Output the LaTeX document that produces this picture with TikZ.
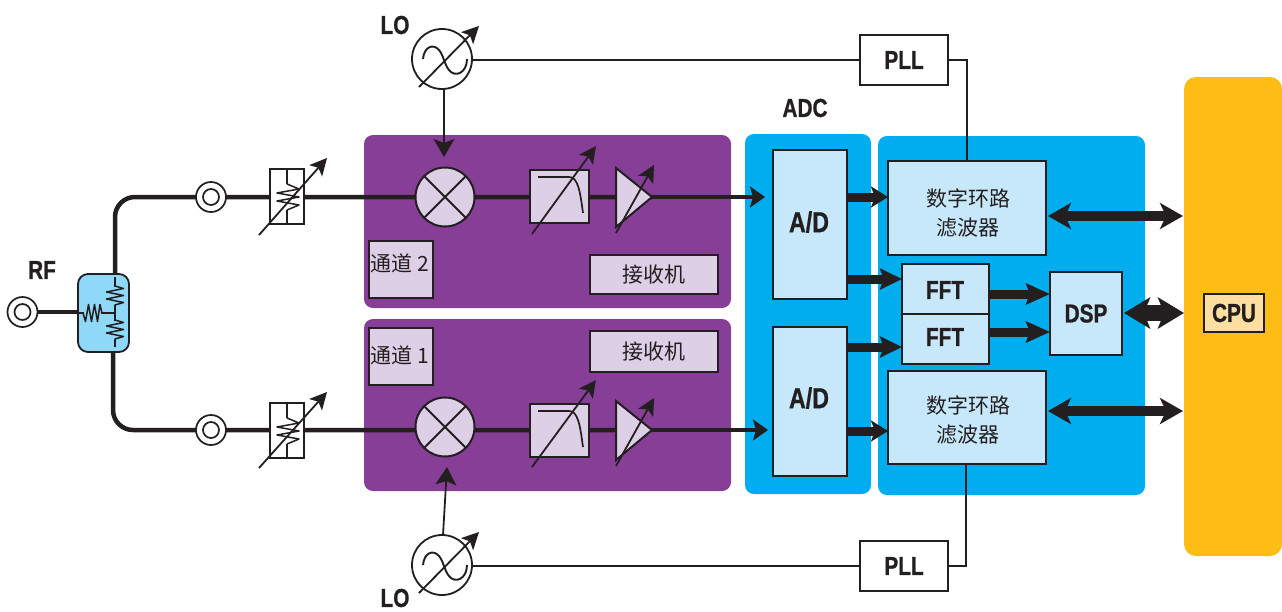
\documentclass[tikz,border=0pt]{standalone}
\usepackage{fontspec}
\setmainfont{Liberation Sans}
\newfontfamily\lab[FakeStretch=0.8,FakeBold=0.8]{Liberation Sans Bold}
\newfontfamily\cjk{Noto Sans CJK SC}
\usetikzlibrary{arrows.meta,calc}
\definecolor{ink}{HTML}{231F20}
\definecolor{purp}{HTML}{873E96}
\definecolor{lilac}{HTML}{DDCFE6}
\definecolor{cyanp}{HTML}{00ADEF}
\definecolor{paleb}{HTML}{C7E8FA}
\definecolor{skyb}{HTML}{8FD8F8}
\definecolor{amber}{HTML}{FDBD14}
\definecolor{cream}{HTML}{FEDFA0}
\tikzset{
  x=1pt,y=-1pt,
  panel/.style={rounded corners=9pt},
  boxp/.style={draw=ink,line width=2pt,inner sep=0pt,outer sep=0pt,text=ink,align=center},
  lil/.style={boxp,fill=lilac,font=\fontsize{21}{28}\selectfont\cjk},
  blu/.style={boxp,fill=paleb},
  bl/.style={boxp,fill=paleb,font=\fontsize{26}{28}\selectfont\lab},
  whitebox/.style={boxp,fill=white,font=\fontsize{26}{28}\selectfont\lab},
  lbl/.style={text=ink,inner sep=0pt,font=\fontsize{26}{28}\selectfont\lab},
  cjkt/.style={text=ink,inner sep=0pt,align=center,font=\fontsize{21}{29}\selectfont\cjk},
  ringo/.style={circle,draw=ink,line width=1.7pt,fill=white,minimum size=30pt,inner sep=0pt,outer sep=0pt},
  ringi/.style={circle,draw=ink,line width=1.7pt,minimum size=16pt,inner sep=0pt},
  mixer/.style={circle,draw=ink,line width=2pt,fill=lilac,minimum size=59pt,inner sep=0pt,outer sep=0pt},
  osc/.style={circle,draw=ink,line width=1.8pt,fill=white,minimum size=60pt,inner sep=0pt,outer sep=0pt},
  sig/.style={draw=ink,line width=4.5pt},
  thin line/.style={draw=ink,line width=1.7pt},
  vararrow/.style={draw=ink,line width=1.8pt,-{Stealth[length=17pt,width=17pt,inset=4pt]}},
  bigarrow/.style={draw=ink,line width=9pt,-{Stealth[length=#1,width=21pt,inset=4pt]}},
  bidir/.style={draw=ink,line width=9.5pt,{Stealth[length=23pt,width=26pt,inset=6pt]}-{Stealth[length=23pt,width=26pt,inset=6pt]}},
  bidirb/.style={draw=ink,line width=16pt,{Stealth[length=26pt,width=31pt,inset=6pt]}-{Stealth[length=26pt,width=31pt,inset=6pt]}},
  inarrow/.style={draw=ink,line width=4.5pt,-{Stealth[length=15pt,width=21pt,inset=3pt]}},
  loarrow/.style={draw=ink,line width=1.8pt,-{Stealth[length=18pt,width=21pt,inset=4pt]}},
  zig/.style={draw=ink,line width=1.5pt,line join=round},
}
\newcommand{\zigv}[3]{% centre x, centre y, half-amplitude
  \draw[zig] (#1,#2-13) -- (#1,#2-10) -- (#1+#3,#2-7.5) -- (#1-#3,#2-4) -- (#1+#3,#2-0.5) -- (#1-#3,#2+3) -- (#1+#3,#2+6.5) -- (#1,#2+9) -- (#1,#2+13);}
\newcommand{\zigh}[3]{%
  \draw[zig] (#1-11,#2) -- (#1-9,#2) -- (#1-6.5,#2+#3) -- (#1-3.5,#2-#3) -- (#1-0.5,#2+#3) -- (#1+2.5,#2-#3) -- (#1+5.5,#2+#3) -- (#1+8,#2-#3) -- (#1+10,#2) -- (#1+13,#2);}
\begin{document}
\begin{tikzpicture}
\useasboundingbox (0,0) rectangle (1282,611);
% panels
\fill[purp,panel] (364,135) rectangle (731,308);
\fill[purp,panel] (364,319) rectangle (731,491);
\fill[cyanp,panel] (745,134) rectangle (871,494);
\fill[cyanp,panel] (878,136) rectangle (1145,495);
\fill[amber,rounded corners=12pt] (1184,77) rectangle (1282,556);
% anchors
\coordinate (spU) at (115,276);
\coordinate (spD) at (113,350);
\coordinate (t1) at (765,197);
\coordinate (t2) at (768,430);
\path
  (22.5,312) coordinate (c0)
  (211,197) coordinate (c1)
  (211,430) coordinate (c2)
  (287,197) coordinate (a1)
  (287,430) coordinate (a2)
  (445,197) coordinate (m1)
  (445,427) coordinate (m2)
  (559,197) coordinate (f1)
  (559,430) coordinate (f2)
  (652,197) coordinate (amp1)
  (652,430) coordinate (amp2)
  (442,59) coordinate (o1)
  (442,565) coordinate (o2)
  (78,312) coordinate (spL);
% signal lines
\draw[sig] (c0) -- (spL);
\draw[sig,rounded corners=20pt] (spU) |- (c1) -- (a1) -- (m1) -- (f1) -- (amp1);
\draw[sig,rounded corners=20pt] (spD) |- (c2) -- (a2) -- (f2) -- (amp2);
\draw[inarrow] (amp1) -- (t1);
\draw[inarrow] (amp2) -- (t2);
% RF connectors
\node[ringo] (c0n) at (c0) {}; \node[ringi] (c0i) at (c0) {};
\node[ringo] (c1n) at (c1) {}; \node[ringi] (c1i) at (c1) {};
\node[ringo] (c2n) at (c2) {}; \node[ringi] (c2i) at (c2) {};
% splitter
\draw[draw=ink,line width=1.8pt,fill=skyb,rounded corners=10pt] (78,274) rectangle (129,352);
\draw[zig] (78,313) -- (115,313);
\fill[skyb] (84,305) rectangle (101,321);
\zigh{92}{313}{8.5}
\draw[zig] (115,277) -- (115,347);
\fill[skyb] (106,287) rectangle (124,305);
\fill[skyb] (106,321) rectangle (124,339);
\zigv{115}{296}{8.5}
\zigv{115}{330}{8.5}
% attenuators
\foreach \n/\cy in {a1/196,a2/430}{
  \node[boxp,fill=white,minimum width=34pt,minimum height=55pt] (\n n) at (287,\cy) {};
  \draw[zig] (287,\cy-27) -- (287,\cy-12);
  \draw[zig] (287,\cy+14) -- (287,\cy+27);
  \draw[zig] (287,\cy-12) -- (299,\cy-7) -- (277,\cy-3) -- (299,\cy+1) -- (277,\cy+5) -- (299,\cy+9) -- (287,\cy+14);
}
\coordinate (av1s) at (259,235); \coordinate (av1e) at (327,158);
\coordinate (av2s) at (259,468); \coordinate (av2e) at (327,392);
\draw[vararrow] (av1s) -- (av1e);
\draw[vararrow] (av2s) -- (av2e);
% mixers
\node[mixer] (m1n) at (m1) {};
\draw[ink,line width=1.8pt] (m1n.45) -- (m1n.225) (m1n.135) -- (m1n.315);
\node[mixer] (m2n) at (m2) {};
\draw[ink,line width=1.8pt] (m2n.45) -- (m2n.225) (m2n.135) -- (m2n.315);
% filters
\foreach \n/\cy in {f1/196,f2/430}{
  \node[boxp,fill=lilac,minimum width=59pt,minimum height=53pt] (\n n) at (559.5,\cy) {};
  \draw[ink,line width=1.7pt] (538,\cy-19) -- (569,\cy-19) .. controls (578,\cy-19) and (580,\cy-5) .. (583,\cy+17);
}
\coordinate (fv1s) at (532,234); \coordinate (fv1e) at (596,146);
\coordinate (fv2s) at (532,467); \coordinate (fv2e) at (596,380);
\draw[vararrow] (fv1s) -- (fv1e);
\draw[vararrow] (fv2s) -- (fv2e);
% amplifiers
\draw[ink,line width=2pt,fill=lilac,line join=miter] (616,168) -- (amp1) -- (616,227) -- cycle;
\draw[ink,line width=2pt,fill=lilac,line join=miter] (616,401) -- (amp2) -- (616,460) -- cycle;
\coordinate (pv1s) at (616,233); \coordinate (pv1e) at (654,165);
\coordinate (pv2s) at (616,466); \coordinate (pv2e) at (654,398);
\draw[vararrow] (pv1s) -- (pv1e);
\draw[vararrow] (pv2s) -- (pv2e);
% channel / receiver labels
\node[lil,minimum width=64pt,minimum height=57pt,anchor=north west] (ch2) at (369,241) {};
\node[cjkt] (ch2t) at (400,263) {通道 2};
\node[lil,minimum width=64pt,minimum height=57pt,anchor=north west] (ch1) at (369,328) {};
\node[cjkt] (ch1t) at (400,355) {通道 1};
\node[lil,minimum width=128pt,minimum height=39pt] (rx2) at (654,274.5) {接收机};
\node[lil,minimum width=128pt,minimum height=41pt] (rx1) at (654,351.5) {接收机};
% digital blocks
\node[bl,minimum width=74pt,minimum height=149pt,anchor=north west] (ad1) at (773,150) {};
\node[lbl,font=\fontsize{29}{30}\selectfont\lab] (ad1t) at (809,222) {A/D};
\node[bl,minimum width=74pt,minimum height=149pt,anchor=north west] (ad2) at (773,327) {};
\node[lbl,font=\fontsize{29}{30}\selectfont\lab] (ad2t) at (809,398) {A/D};
\node[blu,minimum width=158pt,minimum height=94pt] (d1) at (967,208) {};
\node[cjkt] (d1t) at (968,213) {数字环路\\滤波器};
\node[blu,minimum width=158pt,minimum height=93pt] (d2) at (967,417.5) {};
\node[cjkt] (d2t) at (968,420) {数字环路\\滤波器};
\node[bl,minimum width=87pt,minimum height=50pt,anchor=north west] (fft1) at (902,264) {};
\node[lbl] (fft1t) at (945,290) {FFT};
\node[bl,minimum width=87pt,minimum height=50pt,anchor=north west] (fft2) at (902,314) {};
\node[lbl] (fft2t) at (945,337) {FFT};
\node[bl,minimum width=72pt,minimum height=83pt,anchor=north west] (dsp) at (1050,272) {DSP};
\node[boxp,fill=cream,minimum width=60pt,minimum height=38pt,font=\fontsize{26}{28}\selectfont\lab,anchor=north west] (cpu) at (1204,294) {CPU};
\coordinate (cpuE) at (1183,0);
% bus arrows
\coordinate (ya) at (0,197); \coordinate (yb) at (0,431);
\coordinate (yc) at (0,279); \coordinate (yd) at (0,347);
\coordinate (ye) at (0,294); \coordinate (yf) at (0,332);
\coordinate (yg) at (0,216); \coordinate (yh) at (0,411); \coordinate (yi) at (0,313);
\draw[bigarrow=17pt] (ad1.east |- ya) -- (d1.west |- ya);
\draw[bigarrow=17pt] (ad2.east |- yb) -- (d2.west |- yb);
\draw[bigarrow=22pt] (ad1.east |- yc) -- (fft1.west |- yc);
\draw[bigarrow=22pt] (ad2.east |- yd) -- (fft2.west |- yd);
\draw[bigarrow=24pt] (fft1.east |- ye) -- (dsp.west |- ye);
\draw[bigarrow=24pt] (fft2.east |- yf) -- (dsp.west |- yf);
\draw[bidir] ($(d1.east |- yg)+(2,0)$) -- (cpuE |- yg);
\draw[bidir] ($(d2.east |- yh)+(2,0)$) -- (cpuE |- yh);
\draw[bidirb] ($(dsp.east |- yi)+(2,0)$) -- ($(cpuE |- yi)+(1,0)$);
% PLL + LO
\node[whitebox,minimum width=88pt,minimum height=50pt] (pll1) at (904,60) {PLL};
\node[whitebox,minimum width=88pt,minimum height=50pt] (pll2) at (904,566) {PLL};
\node[osc] (o1n) at (o1) {};
\node[osc] (o2n) at (o2) {};
\draw[thin line] (o1n.east |- pll1.west) -- (pll1.west);
\draw[thin line] (o2n.east |- pll2.west) -- (pll2.west);
\coordinate (k1) at (967,60); \coordinate (k2) at (966,566);
\draw[thin line] (pll1.east) -- (k1) -- (k1 |- d1.north);
\draw[thin line] (pll2.east) -- (k2) -- (k2 |- d2.south);
\coordinate (mt1) at (444,157); \coordinate (mt2) at (447,467);
\draw[loarrow] (o1n.south -| mt1) -- (mt1);
\draw[loarrow] (443,535) -- (mt2);
\foreach \c in {o1,o2}{
  \draw[ink,line width=1.9pt] ($(\c)+(-19,0)$) .. controls ($(\c)+(-18,-12)$) and ($(\c)+(-9,-16)$) .. ($(\c)+(-3,-9)$) .. controls ($(\c)+(2,-3)$) and ($(\c)+(2,5)$) .. ($(\c)+(7,11)$) .. controls ($(\c)+(13,19)$) and ($(\c)+(25,14)$) .. ($(\c)+(25,0)$);
}
\coordinate (ov1s) at (419,87); \coordinate (ov1e) at (479,26);
\coordinate (ov2s) at (419,593); \coordinate (ov2e) at (479,532);
\draw[vararrow] (ov1s) -- (ov1e);
\draw[vararrow] (ov2s) -- (ov2e);
% labels
\node[lbl] (rf) at (42,270) {RF};
\node[lbl] (lo1) at (395,25) {LO};
\node[lbl] (lo2) at (395,598) {LO};
\node[lbl] (adc) at (805,108) {ADC};
\end{tikzpicture}
\end{document}
